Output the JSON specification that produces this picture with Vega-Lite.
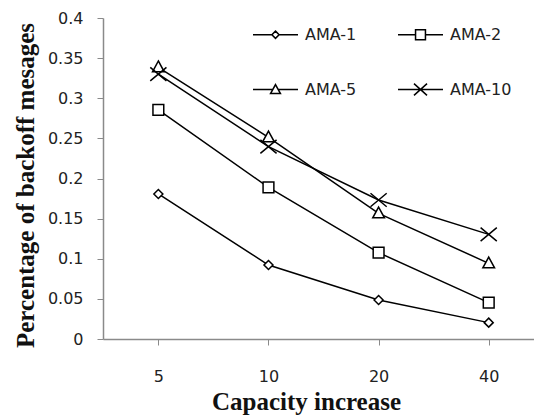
{
  "$schema": "https://vega.github.io/schema/vega-lite/v6.json",
  "width": 431,
  "height": 321,
  "autosize": {"type": "none"},
  "padding": {"left": 103, "top": 18, "right": 0, "bottom": 80},
  "background": "white",
  "config": {"view": {"stroke": null}},
  "data": {
    "values": [
      {"cap": "5", "series": "AMA-1", "value": 0.1807},
      {"cap": "10", "series": "AMA-1", "value": 0.0922},
      {"cap": "20", "series": "AMA-1", "value": 0.0486},
      {"cap": "40", "series": "AMA-1", "value": 0.0204},
      {"cap": "5", "series": "AMA-2", "value": 0.2854},
      {"cap": "10", "series": "AMA-2", "value": 0.189},
      {"cap": "20", "series": "AMA-2", "value": 0.1076},
      {"cap": "40", "series": "AMA-2", "value": 0.0453},
      {"cap": "5", "series": "AMA-5", "value": 0.3386},
      {"cap": "10", "series": "AMA-5", "value": 0.2513},
      {"cap": "20", "series": "AMA-5", "value": 0.1566},
      {"cap": "40", "series": "AMA-5", "value": 0.0943},
      {"cap": "5", "series": "AMA-10", "value": 0.33},
      {"cap": "10", "series": "AMA-10", "value": 0.2397},
      {"cap": "20", "series": "AMA-10", "value": 0.1732},
      {"cap": "40", "series": "AMA-10", "value": 0.1304}
    ]
  },
  "encoding": {
    "x": {
      "field": "cap",
      "type": "ordinal",
      "sort": ["5", "10", "20", "40"],
      "scale": {"type": "point", "padding": 0.457, "align": 0.55},
      "axis": {
        "title": "Capacity increase",
        "titleFont": "Liberation Serif",
        "titleFontWeight": "bold",
        "titleFontSize": 25,
        "titleColor": "#111111",
        "titleX": 203,
        "titleY": 70,
        "titleBaseline": "alphabetic",
        "titleAlign": "center",
        "labelFont": "DejaVu Sans",
        "labelFontSize": 16,
        "labelColor": "#222222",
        "labelPadding": 23,
        "labelAngle": 0,
        "tickSize": 6,
        "tickColor": "#8a8a8a",
        "domainColor": "#8a8a8a",
        "domainWidth": 1.5,
        "grid": false
      }
    },
    "y": {
      "field": "value",
      "type": "quantitative",
      "scale": {"domain": [0, 0.4], "nice": false},
      "axis": {
        "title": "Percentage of backoff mesages",
        "titleFont": "Liberation Serif",
        "titleFontWeight": "bold",
        "titleFontSize": 25,
        "titleColor": "#111111",
        "titleAngle": 270,
        "titleX": -70,
        "titleY": 167,
        "titleBaseline": "alphabetic",
        "titleAlign": "center",
        "values": [0, 0.05, 0.1, 0.15, 0.2, 0.25, 0.3, 0.35, 0.4],
        "format": ".2~f",
        "labelFont": "DejaVu Sans",
        "labelFontSize": 16,
        "labelColor": "#222222",
        "labelPadding": 14,
        "tickSize": 6,
        "tickColor": "#8a8a8a",
        "domainColor": "#8a8a8a",
        "domainWidth": 1.5,
        "grid": false
      }
    }
  },
  "layer": [
    {
      "mark": {"type": "line", "color": "black", "strokeWidth": 1.5},
      "encoding": {"detail": {"field": "series"}}
    },
    {
      "mark": {"type": "point", "filled": true, "fill": "white", "stroke": "black", "strokeWidth": 1.5, "size": 324, "opacity": 1},
      "encoding": {
        "shape": {
          "field": "series",
          "type": "nominal",
          "scale": {
            "domain": ["AMA-1", "AMA-2", "AMA-5", "AMA-10"],
            "range": [
              "M0,-0.5L0.5,0L0,0.5L-0.5,0Z",
              "M-0.6,-0.6H0.6V0.6H-0.6Z",
              "M0,-0.7L0.65,0.5H-0.65Z",
              "M-0.9,-0.75L0.9,0.75M-0.9,0.75L0.9,-0.75"
            ]
          },
          "legend": null
        }
      }
    },
    {
      "mark": {"type": "point", "filled": false, "stroke": "black", "strokeWidth": 1.5, "size": 2025, "fillOpacity": 0, "strokeOpacity": 0},
      "encoding": {
        "shape": {
          "field": "series",
          "type": "nominal",
          "scale": {
            "domain": ["AMA-1", "AMA-2", "AMA-5", "AMA-10"],
            "range": [
              "M-1,0L-0.16,0M0.16,0L1,0M0,-0.16L0.16,0L0,0.16L-0.16,0Z",
              "M-1,0L-0.22,0M0.22,0L1,0M-0.22,-0.22L0.22,-0.22L0.22,0.22L-0.22,0.22Z",
              "M-1,0L-0.12,0M0.12,0L1,0M0,-0.22L0.22,0.18L-0.22,0.18Z",
              "M-1,0L1,0M-0.29,-0.26L0.29,0.26M-0.29,0.26L0.29,-0.26"
            ]
          },
          "legend": {
            "title": null,
            "orient": "none",
            "legendX": 149,
            "legendY": -7,
            "direction": "horizontal",
            "columns": 2,
            "symbolSize": 2025,
            "symbolOpacity": 1,
            "symbolFillColor": "white",
            "symbolStrokeColor": "black",
            "symbolStrokeWidth": 1.5,
            "labelFont": "DejaVu Sans",
            "labelFontSize": 16,
            "labelColor": "#222222",
            "labelOffset": 6,
            "columnPadding": 38,
            "rowPadding": 23,
            "padding": 0,
            "encode": {
              "symbols": {
                "update": {
                  "opacity": {"value": 1},
                  "fillOpacity": {"value": 1},
                  "strokeOpacity": {"value": 1},
                  "fill": {"value": "white"},
                  "stroke": {"value": "black"},
                  "strokeWidth": {"value": 1.5}
                }
              }
            }
          }
        }
      }
    }
  ],
  "resolve": {"scale": {"shape": "independent"}}
}
